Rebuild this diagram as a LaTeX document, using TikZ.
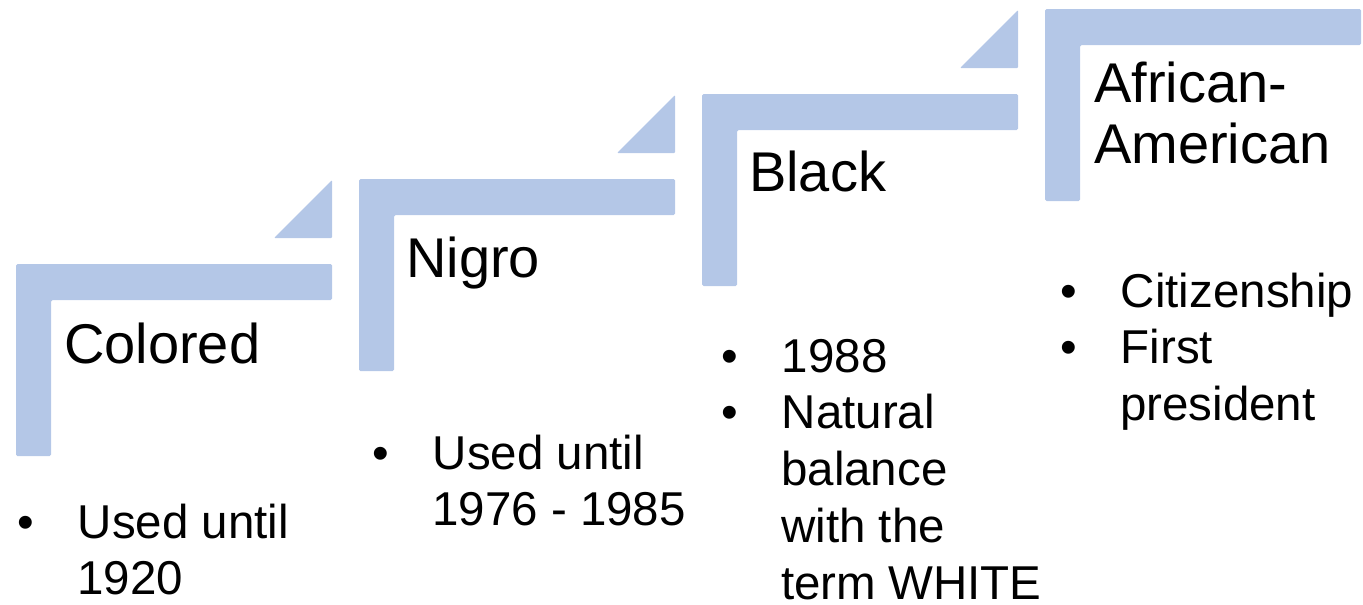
\documentclass[tikz,border=0pt]{standalone}
\usepackage{fontspec}
\setmainfont{Liberation Sans}
\usepackage{tikz}
\usetikzlibrary{positioning}
\definecolor{stepblue}{RGB}{180,199,231}
\newenvironment{steplist}{%
  \begin{list}{\textbullet}{%
    \setlength{\leftmargin}{60pt}\setlength{\labelwidth}{16pt}%
    \setlength{\labelsep}{44pt}\setlength{\itemsep}{0pt}%
    \setlength{\parsep}{0pt}\setlength{\topsep}{0pt}\setlength{\partopsep}{0pt}}}%
  {\end{list}}

\begin{document}
\begin{tikzpicture}[
    x=1pt, y=-1pt,
    title/.style={anchor=base west, inner sep=0pt, align=left, font=\fontsize{56}{61}\selectfont},
    points/.style={anchor=base west, inner sep=0pt, font=\fontsize{47.5}{56.8}\selectfont},
]
    \useasboundingbox (0,0) rectangle (1363,605);

    % Ascending L-shaped steps
    \foreach \i in {0,...,3} {
        \fill[stepblue, rounded corners=1.5pt, shift={(343*\i,-85*\i)}]
            (16,264) -- (332,264) -- (332,300) -- (51,300) -- (51,456) -- (16,456) -- cycle;
    }
    % Small corner triangles
    \foreach \i in {0,...,2} {
        \fill[stepblue, rounded corners=1pt, shift={(343*\i,-85*\i)}]
            (274,238) -- (332,238) -- (332,180) -- cycle;
    }

    % Step titles
    \node[title] (colored) at (64,363) {Colored};
    \node[title] (nigro) at (406,277) {Nigro};
    \node[title] (black) at (749,191) {Black};
    \node[title] (afram) at (1094,163) {African-\\American};

    % Bullet points under each step
    \node[points] (colored-pts) at (17,538) {
        \begin{minipage}[t]{300pt}
        \begin{steplist}
            \item Used until\\1920
        \end{steplist}
        \end{minipage}
    };
    \node[points] (nigro-pts) at (372,469) {
        \begin{minipage}[t]{320pt}
        \begin{steplist}
            \item Used until\\1976 - 1985
        \end{steplist}
        \end{minipage}
    };
    \node[points] (black-pts) at (721,372) {
        \begin{minipage}[t]{320pt}
        \begin{steplist}
            \item 1988
            \item Natural\\balance\\with the\\term WHITE
        \end{steplist}
        \end{minipage}
    };
    \node[points] (afram-pts) at (1060,307) {
        \begin{minipage}[t]{300pt}
        \begin{steplist}
            \item Citizenship
            \item First\\president
        \end{steplist}
        \end{minipage}
    };
\end{tikzpicture}
\end{document}
